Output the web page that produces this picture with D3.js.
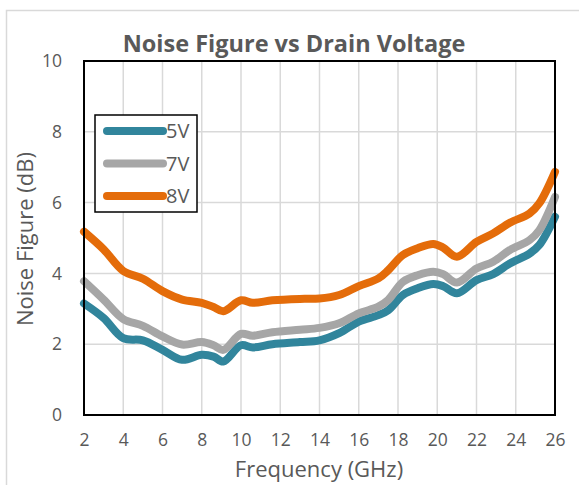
<!DOCTYPE html>
<meta charset="utf-8">
<style>
  body { margin: 0; background: #fff; }
  text { font-family: "Open Sans", Lato, sans-serif; fill: #595959; }
</style>
<script src="https://d3js.org/d3.v7.min.js"></script>
<div id="chart"></div>
<script>
  // data
  var freq = [2, 3, 4, 5, 6, 7, 8, 8.6, 9.1, 10, 10.6, 11.6, 13, 14, 15, 16, 17, 17.5, 18.25, 19, 19.8, 20.3, 21, 22, 22.85, 23.7, 24.7, 25.2, 26];
  var nf5V = [3.15, 2.74, 2.17, 2.11, 1.84, 1.56, 1.70, 1.65, 1.51, 1.97, 1.91, 2.00, 2.06, 2.11, 2.31, 2.64, 2.82, 2.96, 3.39, 3.58, 3.70, 3.64, 3.44, 3.81, 3.98, 4.28, 4.56, 4.80, 5.60];
  var nf7V = [3.78, 3.26, 2.71, 2.52, 2.22, 1.99, 2.06, 1.97, 1.84, 2.29, 2.24, 2.34, 2.41, 2.46, 2.59, 2.87, 3.06, 3.25, 3.76, 3.95, 4.05, 3.98, 3.74, 4.14, 4.33, 4.66, 4.94, 5.22, 6.16];
  var nf8V = [5.18, 4.68, 4.07, 3.85, 3.50, 3.26, 3.17, 3.05, 2.93, 3.24, 3.17, 3.24, 3.28, 3.29, 3.39, 3.64, 3.86, 4.09, 4.52, 4.71, 4.83, 4.73, 4.47, 4.89, 5.13, 5.43, 5.69, 5.98, 6.87];
  var seriesNames = ["5V", "7V", "8V"];
  var seriesColors = ["#31859c", "#a6a6a6", "#e46c0a"];
  var xTicks = [2, 4, 6, 8, 10, 12, 14, 16, 18, 20, 22, 24, 26];
  var yTicks = [0, 2, 4, 6, 8, 10];

  var W = 579, H = 485;
  var plot = {left: 84, right: 555, top: 61, bottom: 415};

  var svg = d3.select("#chart").append("svg")
    .attr("width", W)
    .attr("height", H);

  // outer chart border
  svg.append("rect")
    .attr("x", 6.5).attr("y", 10.5)
    .attr("width", 700).attr("height", 600)
    .attr("fill", "none")
    .attr("stroke", "#d9d9d9")
    .attr("stroke-width", 1.5);

  var x = d3.scaleLinear().domain([2, 26]).range([plot.left, plot.right]);
  var y = d3.scaleLinear().domain([0, 10]).range([plot.bottom, plot.top]);

  // grid
  svg.append("g")
    .selectAll("line.vg")
    .data(xTicks)
    .enter().append("line")
      .attr("x1", function(d) { return x(d); })
      .attr("x2", function(d) { return x(d); })
      .attr("y1", plot.top).attr("y2", plot.bottom)
      .attr("stroke", "#d9d9d9").attr("stroke-width", 1.5);
  svg.append("g")
    .selectAll("line.hg")
    .data(yTicks)
    .enter().append("line")
      .attr("y1", function(d) { return y(d); })
      .attr("y2", function(d) { return y(d); })
      .attr("x1", plot.left).attr("x2", plot.right)
      .attr("stroke", "#d9d9d9").attr("stroke-width", 1.5);

  // axes (labels only, Excel style)
  var xAxis = svg.append("g")
    .attr("transform", "translate(0," + plot.bottom + ")")
    .call(d3.axisBottom(x).tickValues(xTicks).tickSize(0).tickPadding(19));
  var yAxis = svg.append("g")
    .attr("transform", "translate(" + plot.left + ",0)")
    .call(d3.axisLeft(y).tickValues(yTicks).tickSize(0).tickPadding(22));
  [xAxis, yAxis].forEach(function(a) {
    a.select(".domain").remove();
    a.selectAll("text")
      .style("font-family", "'Open Sans', sans-serif")
      .style("font-size", "17.5px")
      .attr("fill", "#595959");
  });

  // lines
  var allSeries = [nf5V, nf7V, nf8V];
  var line = d3.line()
    .x(function(d, i) { return x(freq[i]); })
    .y(function(d) { return y(d); })
    .curve(d3.curveCatmullRom.alpha(0.5));

  svg.append("g")
    .selectAll("path")
    .data(allSeries)
    .enter().append("path")
      .attr("d", line)
      .attr("fill", "none")
      .attr("stroke", function(d, i) { return seriesColors[i]; })
      .attr("stroke-width", 8)
      .attr("stroke-linecap", "round")
      .attr("stroke-linejoin", "round");

  // plot border
  svg.append("rect")
    .attr("x", plot.left).attr("y", plot.top)
    .attr("width", plot.right - plot.left)
    .attr("height", plot.bottom - plot.top)
    .attr("fill", "none")
    .attr("stroke", "#000")
    .attr("stroke-width", 2);

  // legend
  var lg = svg.append("g");
  lg.append("rect")
    .attr("x", 95).attr("y", 115)
    .attr("width", 102).attr("height", 97)
    .attr("fill", "#fff")
    .attr("stroke", "#000")
    .attr("stroke-width", 1.5);
  seriesNames.forEach(function(name, i) {
    var ly = 131 + i * 32.5;
    lg.append("line")
      .attr("x1", 107).attr("x2", 163)
      .attr("y1", ly).attr("y2", ly)
      .attr("stroke", seriesColors[i])
      .attr("stroke-width", 8)
      .attr("stroke-linecap", "round");
    lg.append("text")
      .attr("x", 166).attr("y", ly)
      .attr("dy", "0.36em")
      .style("font-size", "20px")
      .text(name);
  });

  // title
  svg.append("text")
    .attr("x", 294).attr("y", 52)
    .attr("text-anchor", "middle")
    .style("font-size", "23.5px")
    .style("font-weight", "bold")
    .text("Noise Figure vs Drain Voltage");

  // axis titles
  svg.append("text")
    .attr("x", 319).attr("y", 477)
    .attr("text-anchor", "middle")
    .style("font-size", "22px")
    .text("Frequency (GHz)");

  svg.append("text")
    .attr("transform", "translate(33,239) rotate(-90)")
    .attr("text-anchor", "middle")
    .style("font-size", "22px")
    .text("Noise Figure (dB)");
</script>
